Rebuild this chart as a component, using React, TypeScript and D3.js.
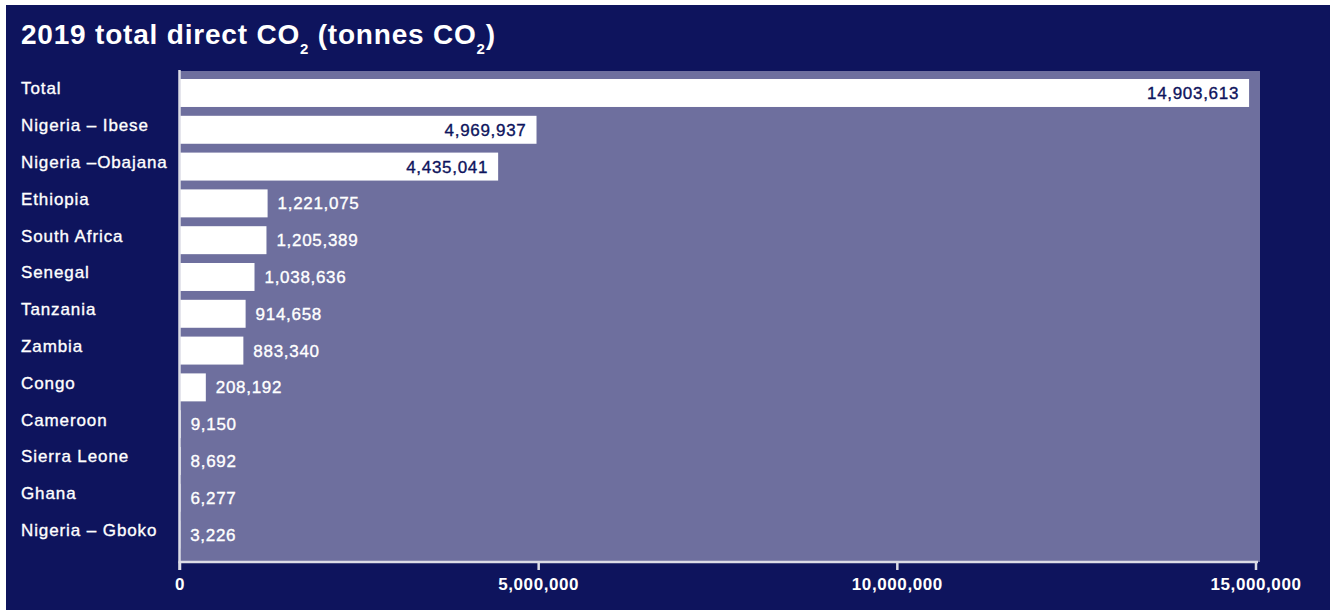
import React, { useEffect } from "react";
import * as d3 from "d3";

const categories = [
  "Total",
  "Nigeria – Ibese",
  "Nigeria –Obajana",
  "Ethiopia",
  "South Africa",
  "Senegal",
  "Tanzania",
  "Zambia",
  "Congo",
  "Cameroon",
  "Sierra Leone",
  "Ghana",
  "Nigeria – Gboko",
];
// printed values
const valueLabels = [
  14903613, 4969937, 4435041, 1221075, 1205389, 1038636, 914658, 883340, 208192,
  9150, 8692, 6277, 3226,
];
// bar lengths as drawn in the picture (Congo's bar is drawn longer than its label)
const barValues = [
  14903613, 4969937, 4435041, 1221075, 1205389, 1038636, 914658, 883340, 360000,
  9150, 8692, 6277, 3226,
];
const xTicks = [0, 5000000, 10000000, 15000000];

const W = 1337;
const H = 611;
const NAVY = "#0e145d";
const PURPLE = "#6e6f9e";
const AXIS = "#dcdce6";
const FONT = "'Liberation Sans', Arial, Helvetica, sans-serif";

export default function App() {
  useEffect(() => {
    document.body.style.margin = "0";
  }, []);

  const x = d3.scaleLinear().domain([0, 15000000]).range([180, 1256]);
  const y = d3
    .scaleBand<string>()
    .domain(categories)
    .range([79, 79 + 36.8 * (categories.length - 0.24)])
    .paddingInner(0.24)
    .paddingOuter(0)
    .align(0);
  const bw = y.bandwidth();
  const fmt = d3.format(",");

  const plotL = 180,
    plotR = 1260,
    plotT = 71,
    plotB = 562;

  return (
    <svg
      width={W}
      height={H}
      style={{ display: "block", position: "absolute", left: 0, top: 0 }}
      fontFamily={FONT}
    >
      <rect x={0} y={0} width={W} height={H} fill="#ffffff" />
      <rect x={6} y={5} width={1324} height={605} fill={NAVY} />
      <text x={21} y={44} fill="#ffffff" fontSize={28} fontWeight="bold" letterSpacing={0.8}>
        2019 total direct CO
        <tspan fontSize={15} dy={10}>2</tspan>
        <tspan dy={-10}> (tonnes CO</tspan>
        <tspan fontSize={15} dy={10}>2</tspan>
        <tspan dy={-10}>)</tspan>
      </text>

      <rect x={plotL} y={plotT} width={plotR - plotL} height={plotB - plotT} fill={PURPLE} />

      {categories.map((c, i) => {
        const y0 = y(c) as number;
        const xe = x(barValues[i]);
        const inside = xe - x(0) > 150;
        const cy = y0 + bw / 2;
        const vCol = inside ? NAVY : "#ffffff";
        return (
          <g key={c}>
            <rect x={x(0)} y={y0} width={xe - x(0)} height={bw} fill="#ffffff" />
            <text
              x={21}
              y={cy + 1.5}
              fill="#ffffff"
              stroke="#ffffff"
              strokeWidth={0.35}
              fontSize={17}
              letterSpacing={0.9}
            >
              {c}
            </text>
            <text
              x={inside ? xe - 10 : xe + 10}
              y={cy + 6}
              fill={vCol}
              stroke={vCol}
              strokeWidth={0.35}
              textAnchor={inside ? "end" : "start"}
              fontSize={17}
              letterSpacing={0.7}
            >
              {fmt(valueLabels[i])}
            </text>
          </g>
        );
      })}

      {/* axes */}
      <line x1={179.5} x2={179.5} y1={70} y2={570} stroke={AXIS} strokeWidth={2.5} />
      <line x1={178.5} x2={1258} y1={562} y2={562} stroke={AXIS} strokeWidth={2.5} />
      {xTicks.map((t) => (
        <g key={t}>
          <line x1={x(t)} x2={x(t)} y1={562} y2={570} stroke={AXIS} strokeWidth={2.5} />
          <text
            x={x(t)}
            y={590}
            fill="#ffffff"
            textAnchor="middle"
            fontSize={17}
            fontWeight="bold"
            letterSpacing={0.6}
          >
            {fmt(t)}
          </text>
        </g>
      ))}
    </svg>
  );
}
